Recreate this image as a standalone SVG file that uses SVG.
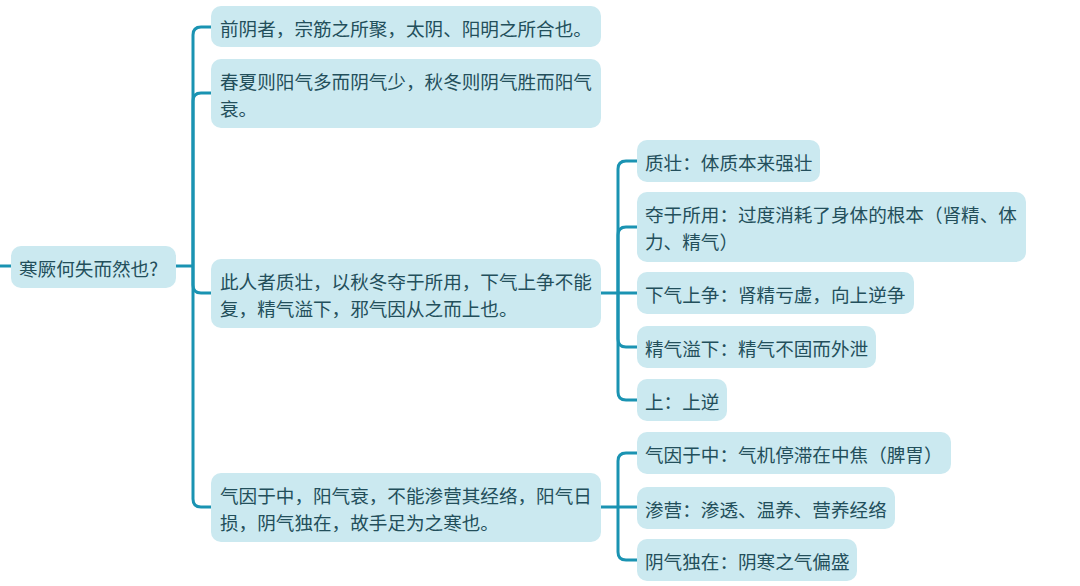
<svg xmlns="http://www.w3.org/2000/svg" width="1080" height="586" viewBox="0 0 1080 586">
<style>
.box{fill:#cbe9f0;}
.t{font-family:"Noto Sans CJK SC","Noto Sans",sans-serif;font-size:18.6px;fill:#234f5b;dominant-baseline:central;}
.c{fill:none;stroke:#1a93b2;stroke-width:3;stroke-linecap:butt;}
</style>
<rect width="1080" height="586" fill="#ffffff"/>
<g id="connectors">
<path class="c" d="M0 266 H11"/>
<path class="c" d="M176 266 H193"/>
<path class="c" d="M193 266 V35 Q193 27 201 27 H211"/>
<path class="c" d="M193 266 V101 Q193 93 201 93 H211"/>
<path class="c" d="M193 266 V285 Q193 293 201 293 H211"/>
<path class="c" d="M193 266 V499 Q193 507 201 507 H211"/>
<path class="c" d="M601 293 H618"/>
<path class="c" d="M618 293 V169 Q618 161 626 161 H637"/>
<path class="c" d="M618 293 V235 Q618 227 626 227 H637"/>
<path class="c" d="M618 293 H637"/>
<path class="c" d="M618 293 V339 Q618 347 626 347 H637"/>
<path class="c" d="M618 293 V392 Q618 400 626 400 H637"/>
<path class="c" d="M601 507 H618"/>
<path class="c" d="M618 507 V461 Q618 453 626 453 H637"/>
<path class="c" d="M618 507 H637"/>
<path class="c" d="M618 507 V552 Q618 560 626 560 H637"/>
</g>
<g id="root">
<rect class="box" x="11" y="246" width="165" height="42" rx="10"/>
<text class="t" x="19" y="267">寒厥何失而然也?</text>
</g>
<g id="n1">
<rect class="box" x="211" y="6" width="390" height="41" rx="10"/>
<text class="t" x="220" y="27">前阴者，宗筋之所聚，太阴、阳明之所合也。</text>
</g>
<g id="n2">
<rect class="box" x="211" y="59" width="390" height="69" rx="10"/>
<text class="t" x="220" y="80">春夏则阳气多而阴气少，秋冬则阴气胜而阳气</text>
<text class="t" x="220" y="107">衰。</text>
</g>
<g id="n3">
<rect class="box" x="211" y="259" width="390" height="69" rx="10"/>
<text class="t" x="220" y="280">此人者质壮，以秋冬夺于所用，下气上争不能</text>
<text class="t" x="220" y="307">复，精气溢下，邪气因从之而上也。</text>
</g>
<g id="n4">
<rect class="box" x="211" y="473" width="390" height="69" rx="10"/>
<text class="t" x="220" y="494">气因于中，阳气衰，不能渗营其经络，阳气日</text>
<text class="t" x="220" y="521">损，阴气独在，故手足为之寒也。</text>
</g>
<g id="n3a">
<rect class="box" x="637" y="140" width="183" height="42" rx="10"/>
<text class="t" x="645" y="161">质壮：体质本来强壮</text>
</g>
<g id="n3b">
<rect class="box" x="637" y="192" width="389" height="70" rx="10"/>
<text class="t" x="645" y="213">夺于所用：过度消耗了身体的根本（肾精、体</text>
<text class="t" x="645" y="240">力、精气）</text>
</g>
<g id="n3c">
<rect class="box" x="637" y="272" width="277" height="42" rx="10"/>
<text class="t" x="645" y="293">下气上争：肾精亏虚，向上逆争</text>
</g>
<g id="n3d">
<rect class="box" x="637" y="326" width="239" height="42" rx="10"/>
<text class="t" x="645" y="347">精气溢下：精气不固而外泄</text>
</g>
<g id="n3e">
<rect class="box" x="637" y="379" width="90" height="42" rx="10"/>
<text class="t" x="645" y="400">上：上逆</text>
</g>
<g id="n4a">
<rect class="box" x="637" y="432" width="314" height="42" rx="10"/>
<text class="t" x="645" y="453">气因于中：气机停滞在中焦（脾胃）</text>
</g>
<g id="n4b">
<rect class="box" x="637" y="487" width="258" height="42" rx="10"/>
<text class="t" x="645" y="508">渗营：渗透、温养、营养经络</text>
</g>
<g id="n4c">
<rect class="box" x="637" y="539" width="220" height="42" rx="10"/>
<text class="t" x="645" y="560">阴气独在：阴寒之气偏盛</text>
</g>
</svg>
